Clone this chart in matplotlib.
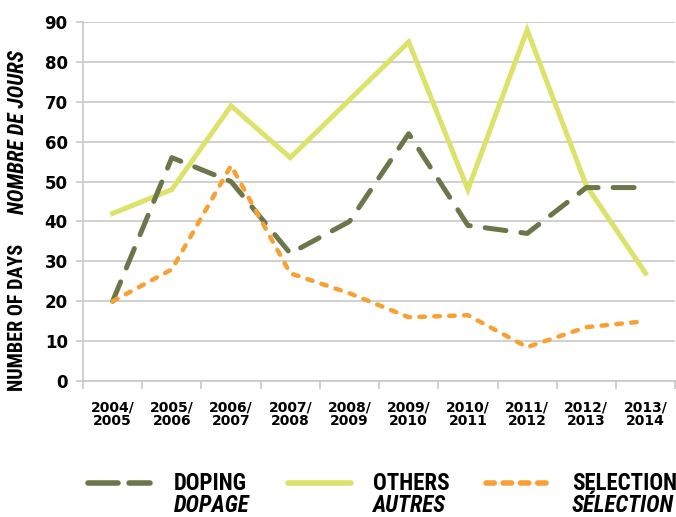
import numpy as np
import matplotlib.pyplot as plt
from matplotlib import font_manager as fm
from matplotlib.lines import Line2D

seasons = ["2004/\n2005", "2005/\n2006", "2006/\n2007", "2007/\n2008", "2008/\n2009",
           "2009/\n2010", "2010/\n2011", "2011/\n2012", "2012/\n2013", "2013/\n2014"]
doping = [20, 56, 50, 32, 40, 62, 39, 37, 48.5, 48.5]
others = [42, 48, 69, 56, 70.5, 85, 48, 88, 49, 27]
selection = [20, 28, 54, 27, 22, 16, 16.5, 8.5, 13.5, 15]

c_doping = "#6b774b"
c_others = "#dce26a"
c_sel = "#f8a032"
tickfont = dict(family="DejaVu Sans", weight="bold")

# pick a narrow font for the titles / legend if one is there
fonts = fm.fontManager.ttflist
names = {f.name for f in fonts}
if "Liberation Sans Narrow" in names:
    cond = dict(family="Liberation Sans Narrow")
elif "Roboto Condensed" in names:
    cond = dict(family="Roboto Condensed")
elif any(f.name == "DejaVu Sans" and "condensed" in str(f.stretch) for f in fonts):
    cond = dict(family="DejaVu Sans", stretch="condensed")
else:
    cond = dict(family="Roboto")

fig = plt.figure(figsize=(6.76, 5.17), dpi=100)
ax = fig.add_axes([0.1228, 0.263, 0.876, 0.6944])

x = np.arange(len(seasons))
ax.plot(x, others, color=c_others, lw=3.6, solid_joinstyle="miter", zorder=3)
ax.plot(x, doping, color=c_doping, lw=3.6, dashes=(4.2, 3.0), dash_capstyle="round", zorder=4)
ax.plot(x, selection, color=c_sel, lw=3.2, dashes=(1.25, 2.1), dash_capstyle="round", zorder=5)

ax.set_xlim(-0.5, len(seasons) - 0.5)
ax.set_ylim(0, 90)
ax.set_yticks(range(0, 91, 10))
ax.yaxis.grid(True, color="#c8c8c8", lw=1.2)
ax.set_axisbelow(True)
ax.set_xticks(x)
ax.set_xticklabels(seasons, fontsize=10, linespacing=1.0, **tickfont)
ax.set_xticks(np.arange(-0.5, len(seasons)), minor=True)
ax.tick_params(axis="x", which="major", length=0, pad=14)
ax.tick_params(axis="x", which="minor", length=6, color="#c8c8c8", width=1.2)
ax.tick_params(axis="y", length=5, color="#c8c8c8", width=1.2, pad=6)
ax.set_yticklabels([str(v) for v in range(0, 91, 10)], fontsize=12, **tickfont)
for s in ["top", "right"]:
    ax.spines[s].set_visible(False)
for s in ["left", "bottom"]:
    ax.spines[s].set_color("#c8c8c8")
    ax.spines[s].set_linewidth(1.2)

# y axis title, two languages
fig.text(18 / 676, 1 - 317 / 517, "NUMBER OF DAYS", rotation=90, ha="center", va="center",
         fontsize=14.5, fontweight="bold", **cond)
fig.text(18 / 676, 1 - 132 / 517, "NOMBRE DE JOURS", rotation=90, ha="center", va="center",
         fontsize=15.5, fontweight="bold", style="italic", **cond)

# legend
items = [
    (88, 150, 174, "DOPING", "DOPAGE", dict(color=c_doping, lw=4, dashes=(5.4, 2.0))),
    (288, 351, 373, "OTHERS", "AUTRES", dict(color=c_others, lw=4)),
    (486, 550, 572, "SELECTION", "SÉLECTION", dict(color=c_sel, lw=4, dashes=(1.5, 1.6))),
]
for x0, x1, tx, en, fr, kw in items:
    fig.add_artist(Line2D([x0 / 676, x1 / 676], [1 - 483 / 517] * 2, solid_capstyle="round",
                          dash_capstyle="round", **kw))
    fig.text(tx / 676, 1 - 483 / 517, en, ha="left", va="center", fontsize=16.5,
             fontweight="bold", **cond)
    fig.text(tx / 676, 1 - 506 / 517, fr, ha="left", va="center", fontsize=16.5,
             fontweight="bold", style="italic", **cond)

fig.savefig("out.png", dpi=100)
